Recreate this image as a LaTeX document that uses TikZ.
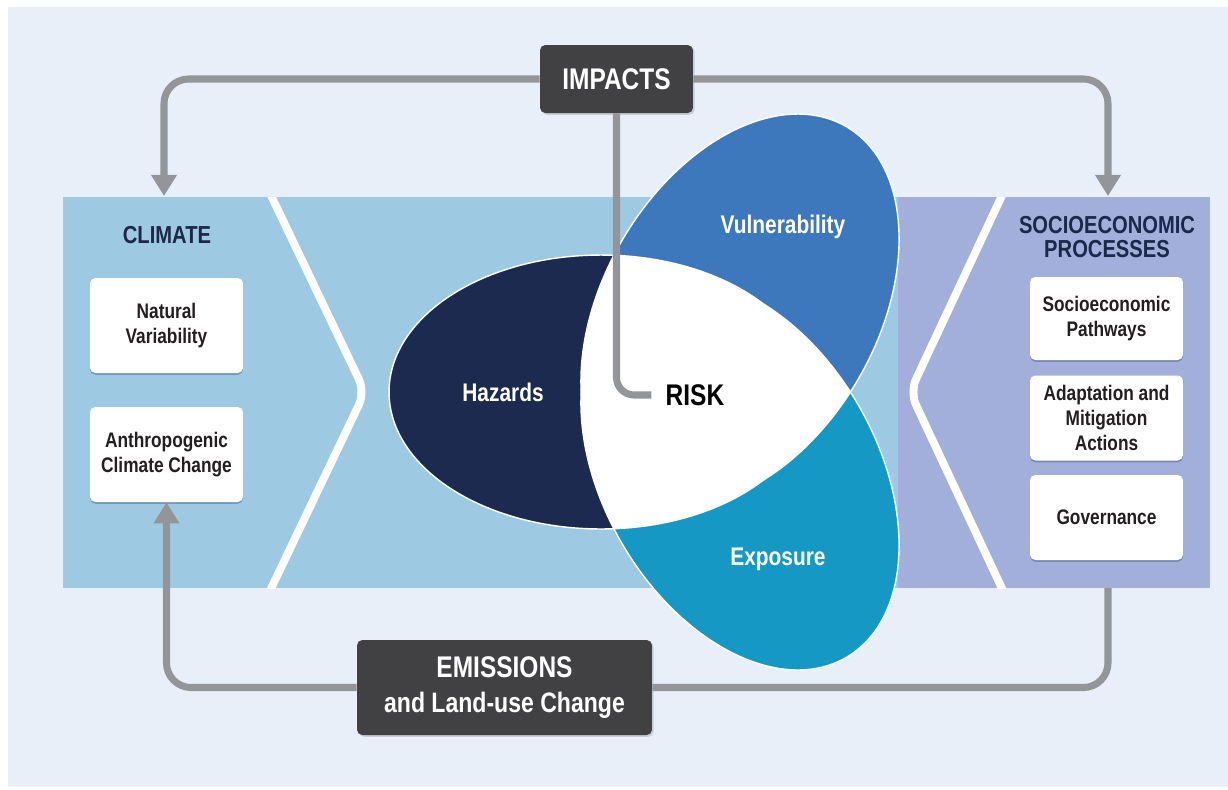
\documentclass[tikz,border=0pt]{standalone}
\usepackage{fontspec}
\setmainfont{Liberation Sans}[FakeStretch=0.82]
\usetikzlibrary{arrows.meta,shadows}

\definecolor{pagebg}{RGB}{232,239,248}
\definecolor{climblue}{RGB}{157,201,227}
\definecolor{socpurple}{RGB}{163,175,219}
\definecolor{hazblue}{RGB}{28,42,79}
\definecolor{vulblue}{RGB}{61,120,188}
\definecolor{expblue}{RGB}{21,152,195}
\definecolor{hubgray}{RGB}{65,65,67}
\definecolor{linkgray}{RGB}{147,149,152}
\definecolor{headnavy}{RGB}{27,40,74}
\definecolor{boxtext}{RGB}{35,31,32}

\begin{document}
\begin{tikzpicture}[x=0.02cm, y=-0.02cm, font=\bfseries,
        petal/.style={x radius=4.24cm, y radius=2.74cm},
        vul tilt/.style={rotate around={60:(vulc)}},
        exp tilt/.style={rotate around={-60:(expc)}},
        petal label/.style={text=white, font=\bfseries\fontsize{14.5}{16}\selectfont},
        heading/.style={align=center, text=headnavy, font=\bfseries\fontsize{14}{14}\selectfont},
        factor/.style={fill=white, rounded corners=3pt, align=center, text=boxtext,
            minimum width=3.06cm, font=\bfseries\fontsize{12}{14}\selectfont,
            drop shadow={shadow xshift=0pt, shadow yshift=-1pt, opacity=.3, fill=headnavy}},
        hub/.style={fill=hubgray, rounded corners=3pt, text=white, align=center,
            drop shadow={shadow xshift=1pt, shadow yshift=-1pt, opacity=.3}},
        link/.style={draw=linkgray, line width=4pt, rounded corners=14pt},
        link arrow/.style={link, -{Triangle[width=14pt, length=12pt]}}]

    \useasboundingbox (0,0) rectangle (1228,789);
    \fill[pagebg] (8,7) rectangle (1228,787);

    % panels
    \fill[climblue] (63,197) rectangle (898,588);
    \fill[socpurple] (898,197) rectangle (1210,588);
    \begin{scope}
        \clip (63,197) rectangle (1210,588);
        \draw[white, line width=4.5pt, rounded corners=8pt] (267,187) -- (365,392) -- (267,597);
        \draw[white, line width=4.5pt, rounded corners=8pt] (1006,187) -- (910,392) -- (1006,597);
    \end{scope}

    % petals
    \coordinate (hazc) at (601,392);
    \coordinate (vulc) at (740,310);
    \coordinate (expc) at (740,474);
    \fill[vulblue, vul tilt] (vulc) ellipse [petal];
    \fill[expblue, exp tilt] (expc) ellipse [petal];
    \fill[hazblue] (hazc) ellipse [petal];
    \begin{scope}
        \clip[vul tilt] (vulc) ellipse [petal];
        \fill[white, exp tilt] (expc) ellipse [petal];
        \fill[white] (hazc) ellipse [petal];
    \end{scope}
    \begin{scope}
        \clip[exp tilt] (expc) ellipse [petal];
        \fill[white] (hazc) ellipse [petal];
    \end{scope}
    \draw[white, line width=0.8pt, vul tilt] (vulc) ellipse [petal];
    \draw[white, line width=0.8pt, exp tilt] (expc) ellipse [petal];
    \draw[white, line width=0.8pt] (hazc) ellipse [petal];

    \node[petal label] (hazlabel) at (503,392) {Hazards};
    \node[petal label] (vullabel) at (783,227) {Vulnerability};
    \node[petal label] (explabel) at (778,559) {Exposure};
    \node[text=black, font=\bfseries\fontsize{17}{18}\selectfont, inner xsep=8pt] (risk) at (695,395) {RISK};

    % climate side
    \node[heading] (climhead) at (167,235) {CLIMATE};
    \node[factor, minimum height=1.9cm] (natvar) at (166.5,325.5) {Natural\\Variability};
    \node[factor, minimum height=1.9cm] (anthro) at (166.5,454.5) {Anthropogenic\\Climate Change};

    % socioeconomic side
    \node[heading] (sochead) at (1107,237) {SOCIOECONOMIC\\PROCESSES};
    \node[factor, minimum height=1.66cm] (sopath) at (1106.5,318.5) {Socioeconomic\\Pathways};
    \node[factor, minimum height=1.7cm] (adapt) at (1106.5,418) {Adaptation and\\Mitigation\\Actions};
    \node[factor, minimum height=1.7cm] (govern) at (1106.5,517.5) {Governance};

    % impacts and emissions
    \node[hub, minimum width=3.06cm, minimum height=1.36cm,
        font=\bfseries\fontsize{17}{18}\selectfont] (impacts) at (616.5,79) {IMPACTS};
    \node[hub, minimum width=5.9cm, minimum height=1.9cm,
        font=\bfseries\fontsize{16}{20}\selectfont] (emissions) at (504.5,687.5)
        {{\fontsize{17}{20}\selectfont EMISSIONS}\\and Land-use Change};

    \coordinate (climtop) at (164,196);
    \coordinate (soctop) at (1108,196);
    \coordinate (socbot) at (1108,588);
    \draw[link arrow] (impacts.west) -| (climtop);
    \draw[link arrow] (impacts.east) -| (soctop);
    \draw[link, rounded corners=10pt] (impacts.south) |- (risk.west);
    \draw[link] (socbot) |- (emissions.east);
    \draw[link arrow] (emissions.west) -| (anthro.south);
\end{tikzpicture}
\end{document}
